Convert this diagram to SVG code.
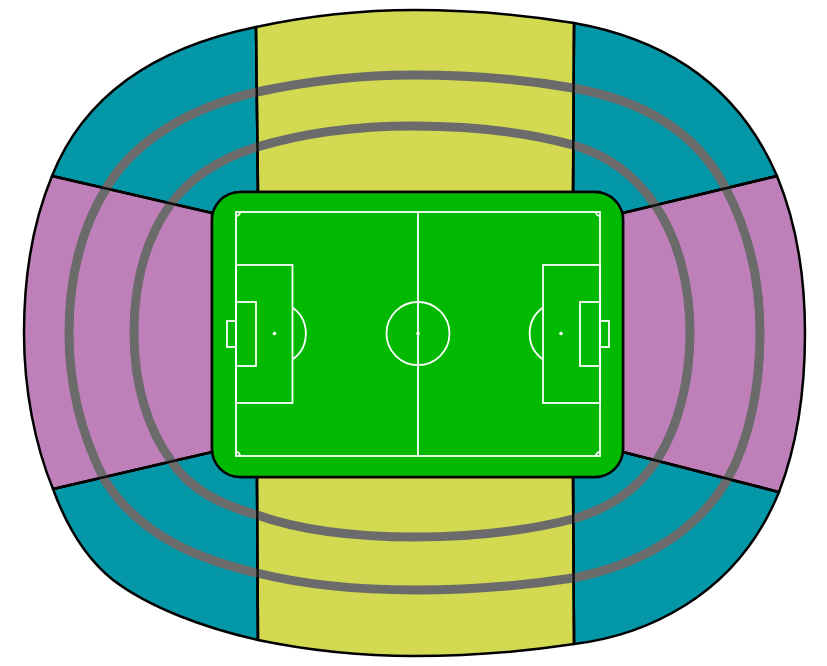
<svg xmlns="http://www.w3.org/2000/svg" width="827" height="666" viewBox="0 0 827 666">
<style>
.s{stroke:#000;stroke-width:2.5;stroke-linejoin:round}
.t{fill:#0397a8}.y{fill:#d3d951}.p{fill:#bf80ba}
.r{fill:none;stroke:#6b6b6b;stroke-width:9}
.d{fill:none;stroke:#000;stroke-width:2.500;opacity:.85}
.m{fill:none;stroke:#fff;stroke-width:1.800}
</style>
<g id="section-top-left"><path class="s t" d="M52,176C85,93 158,47 256,27L258,192H240L212,213Z"/></g>
<g id="section-top-right"><path class="s t" d="M574,23C670,40 740,90 777,176L623,213L600,192H573Z"/></g>
<g id="section-bottom-left"><path class="s t" d="M53,489C68,530 88,560 113,580C150,608 205,628 258,640L257,477H240L212,452Z"/></g>
<g id="section-bottom-right"><path class="s t" d="M574,644C640,636 735,600 779,492L623,452L600,477H573Z"/></g>
<g id="section-top"><path class="s y" d="M256,27Q335,10 414,10Q495,10 574,23L573,192H258Z"/></g>
<g id="section-bottom"><path class="s y" d="M258,640Q335,656 414,656Q495,656 574,644L573,477H257Z"/></g>
<g id="section-left"><path class="s p" d="M52,176C33,222 24,275 24,333C24,390 35,445 53,489L212,452V213Z"/></g>
<g id="section-right"><path class="s p" d="M777,176C796,222 805,275 805,333C805,392 796,448 779,492L623,452V213Z"/></g>
<g id="rings">
<path class="r" d="M69,333C69,280 80,230 107,187C135,140 190,108 257,92C308,81 360,75 413,75C467,75 522,79 573,88C640,100 695,130 725,187C748,230 760,280 760,333C760,385 750,440 727,480C695,535 635,566 573,578C522,586 468,590 415,590C360,590 305,585 257,573C210,562 140,540 103,477C82,435 69,385 69,333Z"/>
<path class="r" d="M134,333C134,285 145,240 170,205C192,175 225,157 257,147C307,132 360,126 413,126C467,126 522,131 573,145C607,155 635,175 655,205C678,238 690,285 690,333C690,380 678,428 657,460C637,490 610,508 573,519C522,532 468,537 415,537C360,537 305,532 257,515C222,505 190,490 172,462C148,430 134,385 134,333Z"/>
</g>
<g id="dividers">
<path class="d" d="M52,176L212,213M777,176L623,213M53,489L212,452M779,492L623,452M256,27L258,192M574,23L573,192M258,640L257,477M574,644L573,477"/>
</g>
<g id="pitch">
<rect x="212" y="192" width="411" height="285" rx="28" fill="#00b900" stroke="#000" stroke-width="2.500"/>
<g class="m">
<rect x="236" y="212" width="364" height="244"/>
<path d="M418,212V456"/>
<circle cx="418" cy="333.500" r="31.500"/>
<rect x="236" y="265" width="56.500" height="138"/>
<rect x="236" y="302" width="20" height="64"/>
<rect x="227" y="321" width="9" height="26"/>
<path d="M292.500,307.500A32,32 0 0 1 292.500,359.500"/>
<rect x="543" y="265" width="57" height="138"/>
<rect x="580" y="302" width="20" height="64"/>
<rect x="600" y="321" width="9" height="26"/>
<path d="M543,307.500A32,32 0 0 0 543,359.500"/>
<path d="M236,216A4,4 0 0 0 240,212M596,212A4,4 0 0 0 600,216M236,452A4,4 0 0 1 240,456M596,456A4,4 0 0 1 600,452"/>
</g>
<circle cx="418" cy="333.500" r="1.800" fill="#fff"/>
<circle cx="274.500" cy="333.500" r="1.800" fill="#fff"/>
<circle cx="561" cy="333.500" r="1.800" fill="#fff"/>
</g>
</svg>
